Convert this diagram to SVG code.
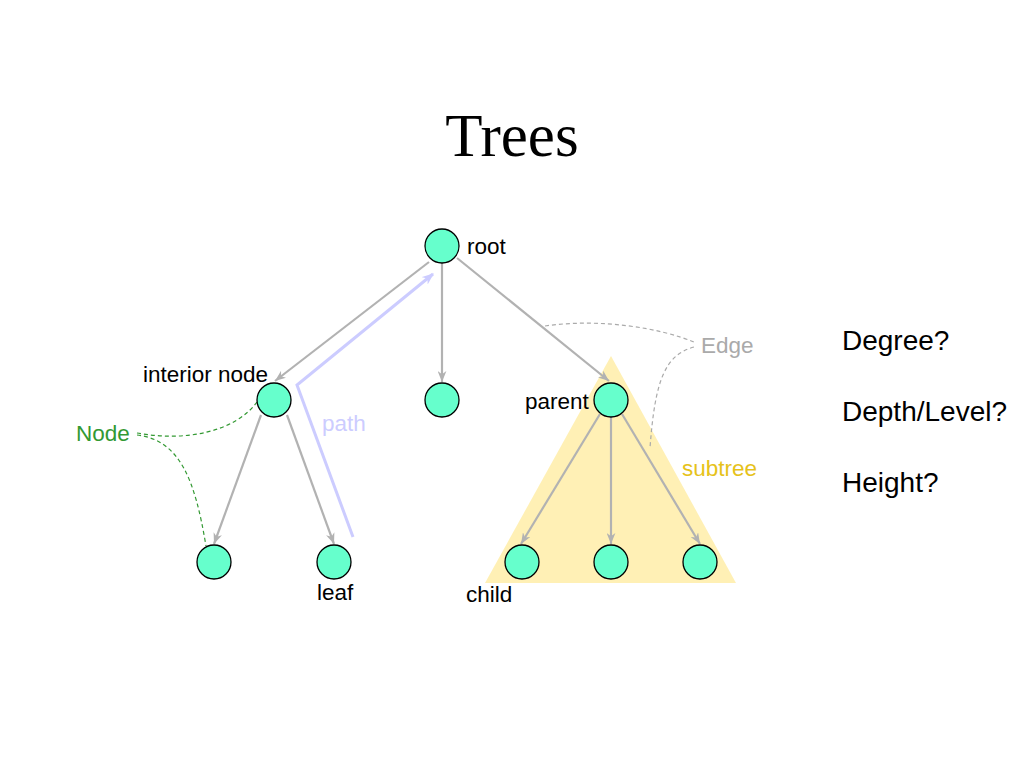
<svg xmlns="http://www.w3.org/2000/svg" width="1024" height="768" viewBox="0 0 1024 768">
  <defs>
    <style>
      .node { fill: #66FFCC; stroke: #000000; stroke-width: 1.3; }
      .edge { stroke: #B2B2B2; stroke-width: 2.2; fill: none; marker-end: url(#arrowGray); }
      .lbl { font-family: "Liberation Sans", Arial, sans-serif; font-size: 22.5px; fill: #000000; }
      .q { font-family: "Liberation Sans", Arial, sans-serif; font-size: 28px; fill: #000000; }
      .green { fill: #339933; }
      .gray { fill: #AAAAAA; }
      .gold { fill: #E6C21A; }
      .blue { fill: #CCCCFF; }
      .dashG { stroke: #339933; stroke-width: 1.2; stroke-dasharray: 4 3; fill: none; }
      .dashE { stroke: #AAAAAA; stroke-width: 1.2; stroke-dasharray: 4 3; fill: none; }
    </style>
    <marker id="arrowGray" viewBox="0 0 10 8" refX="10" refY="4" markerWidth="11" markerHeight="9" markerUnits="userSpaceOnUse" orient="auto">
      <path d="M0,0 L10,4 L0,8 L3,4 z" fill="#B2B2B2"/>
    </marker>
    <marker id="arrowBlue" viewBox="0 0 10 8" refX="9" refY="4" markerWidth="12" markerHeight="10" markerUnits="userSpaceOnUse" orient="auto">
      <path d="M0,0 L10,4 L0,8 L3,4 z" fill="#CCCCFF"/>
    </marker>
  </defs>
  <rect width="1024" height="768" fill="#FFFFFF"/>

  <text x="512" y="156" text-anchor="middle" font-family="'Liberation Serif', 'Times New Roman', serif" font-size="61" fill="#000000">Trees</text>

  <g id="subtree">
    <polygon points="611,356 485,583 736,583" fill="#FFF0B5"/>
    <text class="lbl gold" x="682" y="476">subtree</text>
  </g>

  <g id="connectors">
    <line class="edge" x1="429" y1="262" x2="275" y2="381"/>
    <line class="edge" x1="442" y1="263" x2="442" y2="382"/>
    <line class="edge" x1="457" y1="258" x2="609" y2="381"/>
    <line class="edge" x1="261" y1="415" x2="214" y2="544"/>
    <line class="edge" x1="287" y1="415" x2="334" y2="544"/>
    <line class="edge" x1="600" y1="414" x2="521" y2="544"/>
    <line class="edge" x1="611" y1="417" x2="611" y2="544"/>
    <line class="edge" x1="622" y1="414" x2="700" y2="544"/>
  </g>

  <g id="path">
    <polyline points="353,537 297,385 433,274" fill="none" stroke="#CCCCFF" stroke-width="3" marker-end="url(#arrowBlue)"/>
    <text class="lbl blue" x="322" y="431">path</text>
  </g>

  <g id="node-callout">
    <path class="dashG" d="M137,433 C185,442 235,432 257,402"/>
    <path class="dashG" d="M137,435 C180,440 195,480 206,546"/>
    <text class="lbl green" x="76" y="441">Node</text>
  </g>

  <g id="edge-callout">
    <path class="dashE" d="M545,326 C600,318 660,328 694,342"/>
    <path class="dashE" d="M694,347 C665,355 655,380 650,448"/>
    <text class="lbl gray" x="701" y="353">Edge</text>
  </g>

  <g id="root">
    <circle class="node" cx="442" cy="246" r="17"/>
    <text class="lbl" x="467" y="254">root</text>
  </g>
  <g id="interior">
    <circle class="node" cx="274" cy="400" r="17"/>
    <text class="lbl" x="143" y="382">interior node</text>
  </g>
  <g id="middle">
    <circle class="node" cx="442" cy="400" r="17"/>
  </g>
  <g id="parent">
    <circle class="node" cx="611" cy="400" r="17"/>
    <text class="lbl" x="525" y="409">parent</text>
  </g>
  <g id="leftleaf">
    <circle class="node" cx="214" cy="562" r="17"/>
  </g>
  <g id="leaf">
    <circle class="node" cx="334" cy="562" r="17"/>
    <text class="lbl" x="317" y="600">leaf</text>
  </g>
  <g id="child1">
    <circle class="node" cx="522" cy="562" r="17"/>
    <text class="lbl" x="466" y="602">child</text>
  </g>
  <g id="child2">
    <circle class="node" cx="611" cy="562" r="17"/>
  </g>
  <g id="child3">
    <circle class="node" cx="700" cy="562" r="17"/>
  </g>

  <g id="questions">
    <text class="q" x="842" y="350">Degree?</text>
    <text class="q" x="842" y="421">Depth/Level?</text>
    <text class="q" x="842" y="492">Height?</text>
  </g>
</svg>
